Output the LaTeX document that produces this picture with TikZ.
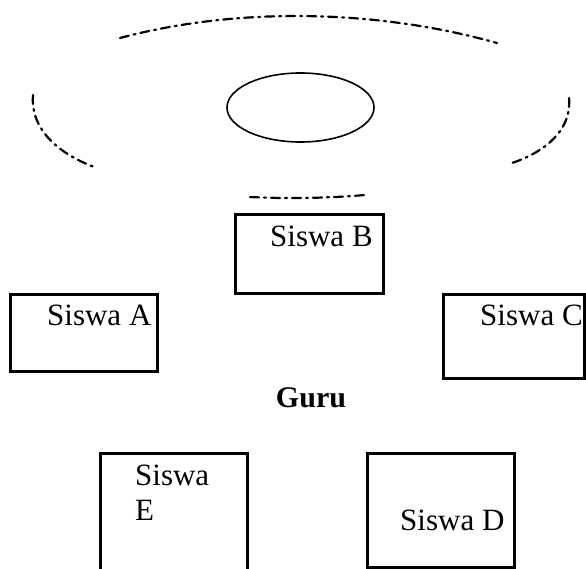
\documentclass[tikz,border=0pt]{standalone}
\usepackage{fontspec}
\setmainfont{Liberation Serif}
\usetikzlibrary{shapes.geometric}
\begin{document}
\begin{tikzpicture}[x=1pt,y=-1pt,
  seat/.style={draw=black,line width=3pt,inner sep=0pt},
  lbl/.style={anchor=base west,inner sep=0pt,font=\fontsize{31}{35}\selectfont},
  rim/.style={line width=2.2pt,line cap=round,
    dash pattern=on 9pt off 5pt on 2pt off 5pt}]
\useasboundingbox (0,0) rectangle (586,569);
\clip (0,0) rectangle (586,569);

% dash-dotted outline round the table
\draw[rim] (120,38) .. controls (240,6) and (380,10) .. (497,43);
\draw[rim] (33,95) .. controls (30,130) and (60,155) .. (97,168);
\draw[rim] (569,98) .. controls (572,130) and (545,152) .. (512,163);
\draw[rim] (250,197) .. controls (290,199) and (330,198) .. (365,195);

% table
\node[draw=black,line width=1.6pt,ellipse,minimum width=147pt,minimum height=69pt,inner sep=0pt] (meja) at (300.5,107.5) {};

% student seats
\node[seat,minimum width=148pt,minimum height=78pt] (B) at (309,254) {};
\node[seat,minimum width=147pt,minimum height=77pt] (A) at (83.5,332.5) {};
\node[seat,minimum width=141pt,minimum height=84pt] (C) at (513.5,336) {};
\node[seat,minimum width=147pt,minimum height=140pt] (E) at (173.5,523) {};
\node[seat,minimum width=147pt,minimum height=114pt] (D) at (440.5,510) {};

\node[lbl] (tB) at (270,247) {Siswa B};
\node[lbl] (tA) at (47,325) {Siswa A};
\node[lbl] (tC) at (480,325) {Siswa C};
\node[lbl,align=left] (tE) at (135,520) {Siswa\\E};
\node[lbl] (tD) at (400,530) {Siswa D};

\node[anchor=base,inner sep=0pt,font=\fontsize{30}{34}\selectfont\bfseries] (guru) at (311,407) {Guru};
\end{tikzpicture}
\end{document}
